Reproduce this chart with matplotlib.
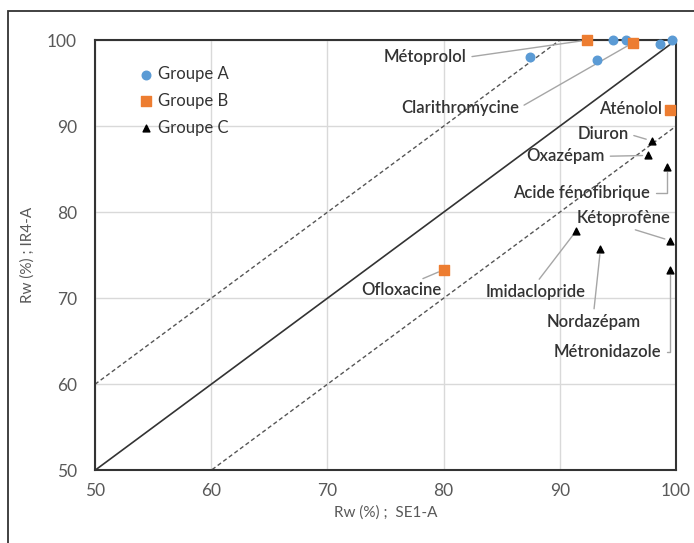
import numpy as np
import matplotlib
matplotlib.use("Agg")
import matplotlib.pyplot as plt
from matplotlib.patches import Rectangle

plt.rcParams['font.family'] = ['Lato', 'DejaVu Sans']

# Groupe A - points only, no names
a_x = [87.4, 93.2, 94.6, 95.7, 98.6, 99.7]
a_y = [98.1, 97.7, 100.0, 100.0, 99.6, 100.0]

# Groupe B
b_names = ['Métoprolol', 'Clarithromycine', 'Aténolol', 'Ofloxacine']
b_x = [92.3, 96.3, 99.5, 80.0]
b_y = [100.0, 99.7, 91.9, 73.3]

# Groupe C
c_names = ['Diuron', 'Oxazépam', 'Acide fénofibrique', 'Kétoprofène',
           'Imidaclopride', 'Nordazépam', 'Métronidazole']
c_x = [97.9, 97.6, 99.2, 99.5, 91.4, 93.5, 99.5]
c_y = [88.3, 86.6, 85.3, 76.7, 77.8, 75.7, 73.3]

# label position, alignment, where the leader leaves the text, connector
labels = {
    'Métoprolol': ((78.4, 98.0), 'center', (1, 0.5), 'arc3'),
    'Clarithromycine': ((81.4, 92.1), 'center', (1, 0.5), 'arc3'),
    'Aténolol': ((98.8, 92.0), 'right', None, None),
    'Ofloxacine': ((76.4, 70.9), 'center', (0.65, 1), 'arc3'),
    'Diuron': ((93.7, 89.1), 'center', (1, 0.5), 'arc3'),
    'Oxazépam': ((90.5, 86.5), 'center', (1, 0.5), 'arc3'),
    'Acide fénofibrique': ((91.9, 82.2), 'center', (1, 0.5), 'angle,angleA=0,angleB=90,rad=0'),
    'Kétoprofène': ((95.5, 79.3), 'center', (0.5, 0), 'arc3'),
    'Imidaclopride': ((87.9, 70.7), 'center', (0.5, 1), 'arc3'),
    'Nordazépam': ((92.9, 67.2), 'center', (0.5, 1), 'arc3'),
    'Métronidazole': ((94.1, 63.7), 'center', (1, 0.5), 'angle,angleA=0,angleB=90,rad=0'),
}

fig = plt.figure(figsize=(6.94, 5.43), dpi=100)
ax = fig.add_axes([0.137, 0.134, 0.837, 0.792])

# outer frame of the figure (only left and top show)
fig.patches.append(Rectangle((0.0115, -0.1), 1.2, 1.08, transform=fig.transFigure,
                             fill=False, edgecolor='#333333', linewidth=1.3))

line_x = np.array([50, 100])
ax.plot(line_x, line_x, color='#333333', lw=1.2, zorder=2)
ax.plot(line_x, line_x + 10, color='#555555', lw=1.0, ls=(0, (3, 2)), zorder=2)
ax.plot(line_x, line_x - 10, color='#555555', lw=1.0, ls=(0, (3, 2)), zorder=2)

ax.scatter(a_x, a_y, marker='o', s=38, color='#5B9BD5', label='Groupe A', zorder=4, clip_on=False)
ax.scatter(b_x, b_y, marker='s', s=55, color='#ED7D31', label='Groupe B', zorder=4, clip_on=False)
ax.scatter(c_x, c_y, marker='^', s=24, color='black', label='Groupe C', zorder=4, clip_on=False)

all_names = b_names + c_names
all_x = b_x + c_x
all_y = b_y + c_y
for name, x, y in zip(all_names, all_x, all_y):
    pos, ha, rel, conn = labels[name]
    if rel is None:
        ax.text(pos[0], pos[1], name, ha=ha, va='center', fontsize=12,
                color='#333333', fontweight='semibold')
        continue
    ax.annotate(name, xy=(x, y), xytext=pos, ha=ha, va='center', fontsize=12,
                color='#333333', fontweight='semibold',
                arrowprops=dict(arrowstyle='-', color='#a6a6a6', lw=1.0,
                                relpos=rel, shrinkA=2, shrinkB=4,
                                connectionstyle=conn))

ax.set_xlim(50, 100)
ax.set_ylim(50, 100)
ax.set_xticks(range(50, 101, 10))
ax.set_yticks(range(50, 101, 10))
ax.grid(True, color='#d9d9d9', lw=1.0)
ax.set_axisbelow(True)
ax.tick_params(length=0, labelsize=12.5, labelcolor='#595959')
ax.tick_params(axis='y', pad=13)
ax.tick_params(axis='x', pad=9)
for sp in ax.spines.values():
    sp.set_color('#333333')
    sp.set_linewidth(1.5)

ax.set_xlabel('Rw (%) ;  SE1-A', fontsize=11, color='#595959', labelpad=5)
ax.set_ylabel('Rw (%) ; IR4-A', fontsize=11, color='#595959', labelpad=9)

ax.legend(loc='upper left', bbox_to_anchor=(0.045, 0.975), frameon=False,
          fontsize=12, handletextpad=0.1, labelspacing=0.65,
          handlelength=1.2, labelcolor='#333333')

fig.savefig('out.png', dpi=100)
